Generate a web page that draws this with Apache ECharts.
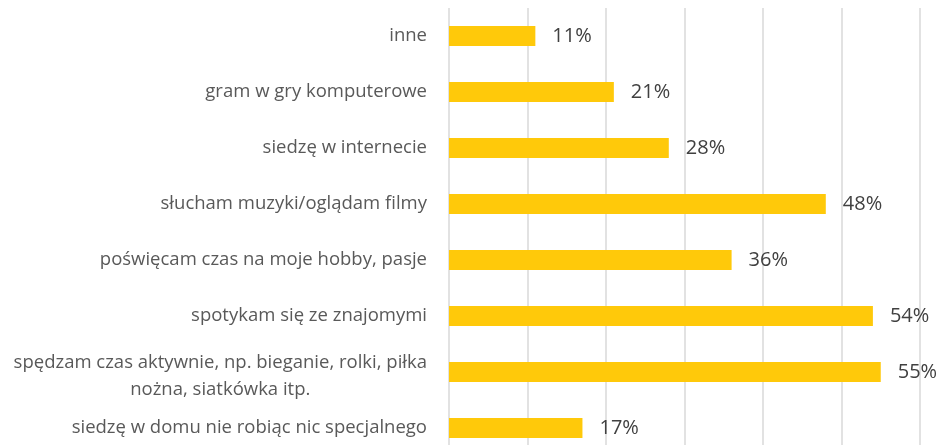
<!DOCTYPE html>
<html>
<head>
<meta charset="utf-8">
<script src="https://cdn.jsdelivr.net/npm/echarts@6/dist/echarts.min.js"></script>
<style>
  html, body { margin: 0; padding: 0; background: #fff; }
  #chart { width: 944px; height: 445px; }
</style>
</head>
<body>
<div id="chart"></div>
<script>
const categories = [
  'inne',
  'gram w gry komputerowe',
  'siedzę w internecie',
  'słucham muzyki/oglądam filmy',
  'poświęcam czas na moje hobby, pasje',
  'spotykam się ze znajomymi',
  'spędzam czas aktywnie, np. bieganie, rolki, piłka\nnożna, siatkówka itp.',
  'siedzę w domu nie robiąc nic specjalnego'
]
const values = [11, 21, 28, 48, 36, 54, 55, 17]

const chart = echarts.init(document.getElementById('chart'))

// the wrapped label sits a little lower in the original
const yData = categories.map(function (c) {
  return c.indexOf('\n') >= 0 ? { value: c, textStyle: { padding: [8, 0, 0, 0] } } : c
})

chart.setOption({
  animation: false,
  textStyle: { fontFamily: 'Open Sans' },
  grid: {
    left: 449,
    right: 24,
    top: 8,
    height: 448,
    outerBoundsMode: 'none'
  },
  xAxis: {
    type: 'value',
    min: 0,
    max: 60,
    interval: 10,
    axisLabel: { show: false },
    axisLine: { show: false },
    axisTick: { show: false },
    splitLine: { lineStyle: { color: '#d9d9d9', width: 1.5 } }
  },
  yAxis: {
    type: 'category',
    inverse: true,
    data: yData,
    axisLine: { show: false },
    axisTick: { show: false },
    axisLabel: {
      margin: 22,
      formatter: function (v) {
        return v.split('\n').map(function (l) { return '{a|' + l + '}' }).join('\n')
      },
      rich: {
        a: { align: 'center', fontSize: 18.5, color: '#595959', lineHeight: 27, fontFamily: 'Open Sans' }
      }
    }
  },
  series: [{
    type: 'bar',
    data: values,
    barWidth: 20,
    itemStyle: { color: '#FFC90A' },
    label: {
      show: true,
      position: 'right',
      distance: 17,
      formatter: '{c}%',
      fontSize: 20,
      color: '#404040'
    }
  }]
})
</script>
</body>
</html>
